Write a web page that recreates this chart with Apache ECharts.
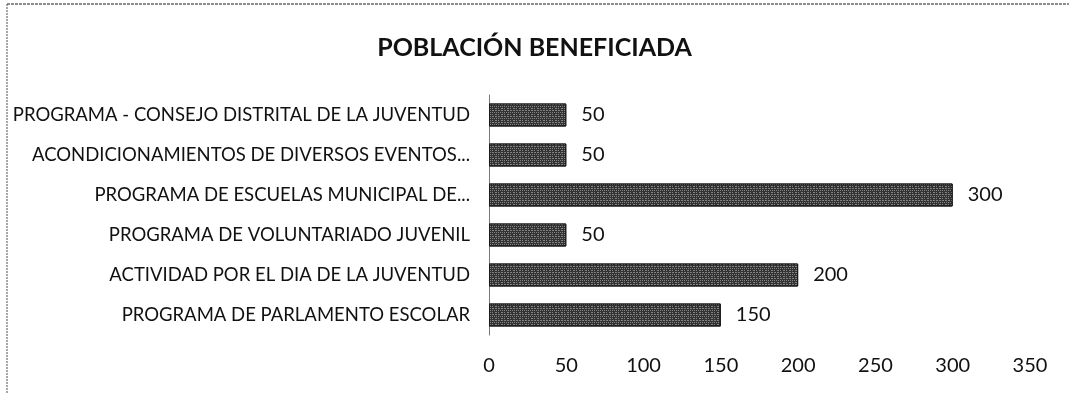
<!DOCTYPE html>
<html>
<head>
<meta charset="utf-8">
<script src="https://cdn.jsdelivr.net/npm/echarts@6/dist/echarts.min.js"></script>
<style>
  html, body { margin: 0; padding: 0; background: #fff; }
  #chart { width: 1069px; height: 394px; }
</style>
</head>
<body>
<div id="chart"></div>
<script>
// Categories listed bottom-to-top (ECharts category axis runs upward on a horizontal bar chart)
const categories = [
  'PROGRAMA DE PARLAMENTO ESCOLAR',
  'ACTIVIDAD POR EL DIA DE LA JUVENTUD',
  'PROGRAMA DE VOLUNTARIADO JUVENIL',
  'PROGRAMA DE ESCUELAS MUNICIPAL DE...',
  'ACONDICIONAMIENTOS DE DIVERSOS EVENTOS...',
  'PROGRAMA - CONSEJO DISTRITAL DE LA JUVENTUD'
];
const beneficiaries = [150, 200, 50, 300, 50, 50];
const xTicks = [0, 50, 100, 150, 200, 250, 300, 350];
const chartTitle = 'POBLACIÓN BENEFICIADA';

const FONT = 'Lato';
const chart = echarts.init(document.getElementById('chart'));
chart.setOption({
  animation: false,
  backgroundColor: '#ffffff',
  title: {
    text: chartTitle,
    left: 'center',
    top: 30,
    textStyle: { fontFamily: FONT, fontWeight: 'bold', fontSize: 25, color: '#111' }
  },
  grid: { left: 489, right: 39, top: 95, bottom: 59 },
  xAxis: {
    type: 'value',
    min: xTicks[0],
    max: xTicks[xTicks.length - 1],
    interval: xTicks[1] - xTicks[0],
    axisLine: { show: false },
    axisTick: { show: false },
    splitLine: { show: false },
    axisLabel: { fontFamily: FONT, fontSize: 20, color: '#111', margin: 21 }
  },
  yAxis: {
    type: 'category',
    data: categories,
    axisLine: { show: true, lineStyle: { color: '#777', width: 1 } },
    axisTick: { show: false },
    axisLabel: { fontFamily: FONT, fontSize: 18.5, color: '#111', margin: 19 }
  },
  series: [{
    type: 'bar',
    data: beneficiaries,
    barWidth: 23,
    itemStyle: {
      color: '#333333',
      borderColor: '#1a1a1a',
      borderWidth: 1,
      // speckled grey fill on the dark bars
      decal: {
        symbol: 'rect',
        symbolSize: 0.8,
        color: 'rgba(185,185,185,0.75)',
        dashArrayX: [[1, 1], [1, 2, 2, 1], [2, 1]],
        dashArrayY: [1, 1],
        rotation: 0
      }
    },
    label: {
      show: true,
      position: 'right',
      distance: 15,
      fontFamily: FONT,
      fontSize: 20,
      color: '#111'
    }
  }],
  graphic: [
    { type: 'line', shape: { x1: 7, y1: 4, x2: 7, y2: 394 },
      style: { stroke: '#8a8a8a', lineWidth: 1.5, lineDash: [2, 1] } },
    { type: 'line', shape: { x1: 7, y1: 4, x2: 1069, y2: 4 },
      style: { stroke: '#6a6a6a', lineWidth: 1.5, lineDash: [3, 1] } }
  ]
});
</script>
</body>
</html>
